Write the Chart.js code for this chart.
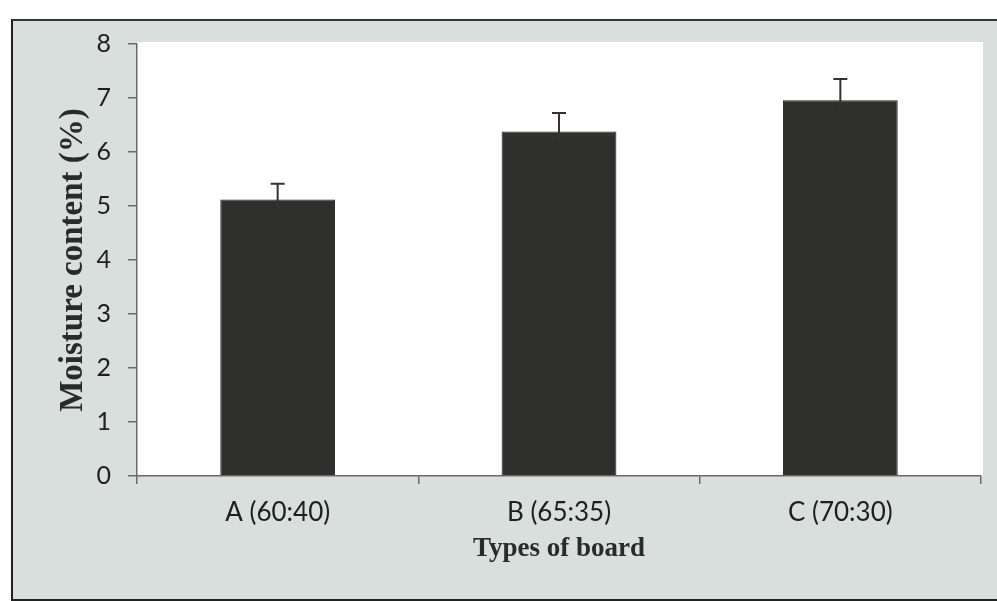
<!DOCTYPE html>
<html>
<head>
<meta charset="utf-8">
<script src="https://cdn.jsdelivr.net/npm/chart.js@4"></script>
<style>
  html, body { margin: 0; padding: 0; background: #fff; }
  body { width: 997px; height: 601px; position: relative; overflow: hidden; }
  #frame {
    position: absolute; left: 11px; top: 19px; width: 1000px; height: 578px;
    background: #d9dfdd;
    border-left: 2px solid #222; border-top: 2px solid #333; border-bottom: 2px solid #222;
  }
  #wrap { position: absolute; left: 0; top: 0; width: 997px; height: 601px; }
</style>
</head>
<body>
<div id="frame"></div>
<div id="wrap"><canvas id="moisture" width="997" height="601"></canvas></div>
<script>
const boards = ['A (60:40)', 'B (65:35)', 'C (70:30)'];
const moisture = [5.12, 6.38, 6.96];
const moistureErr = [0.29, 0.34, 0.39];
const yTicks = [0, 1, 2, 3, 4, 5, 6, 7, 8];

// white plotting area behind the bars
const plotBackground = {
  id: 'plotBackground',
  beforeDraw(chart) {
    const { ctx, chartArea: a } = chart;
    ctx.save();
    ctx.fillStyle = '#ffffff';
    ctx.fillRect(a.left, a.top - 2, a.right - a.left + 2, a.bottom - a.top + 2);
    ctx.restore();
  }
};

// upper error bars with a cap
const errorBars = {
  id: 'errorBars',
  afterDatasetsDraw(chart) {
    const { ctx } = chart;
    const y = chart.scales.y;
    const meta = chart.getDatasetMeta(0);
    ctx.save();
    ctx.strokeStyle = '#3b2f31';
    ctx.lineWidth = 2;
    meta.data.forEach((bar, i) => {
      const top = y.getPixelForValue(moisture[i] + moistureErr[i]);
      const base = y.getPixelForValue(moisture[i] - moistureErr[i] * 0.5);
      ctx.beginPath();
      ctx.moveTo(bar.x, base);
      ctx.lineTo(bar.x, top);
      ctx.moveTo(bar.x - 7, top);
      ctx.lineTo(bar.x + 7, top);
      ctx.stroke();
    });
    ctx.restore();
  }
};

new Chart(document.getElementById('moisture'), {
  type: 'bar',
  data: {
    labels: boards,
    datasets: [{
      data: moisture,
      backgroundColor: '#2f2f2e',
      borderColor: '#252524',
      borderWidth: 1,
      categoryPercentage: 0.8,
      barPercentage: 0.51
    }]
  },
  options: {
    responsive: false,
    animation: false,
    devicePixelRatio: 1,
    layout: { padding: { left: 54, top: 44, right: 16, bottom: 25 } },
    plugins: { legend: { display: false }, tooltip: { enabled: false } },
    scales: {
      x: {
        offset: true,
        grid: { offset: true, drawOnChartArea: false, tickLength: 8, color: '#6a6a6a', lineWidth: 1.5 },
        border: { color: '#6a6a6a', width: 1.5 },
        ticks: { color: '#1f1f1f', padding: 13, font: { family: 'Lato', size: 26 } },
        title: {
          display: true,
          text: 'Types of board',
          color: '#2a2a2a',
          padding: { top: 0, bottom: 11 },
          font: { family: 'Liberation Serif', size: 27, weight: 'bold' }
        },
        afterFit(scale) { scale.height = 100; }
      },
      y: {
        min: 0,
        max: 8,
        afterBuildTicks(scale) { scale.ticks = yTicks.map(v => ({ value: v })); },
        grid: { drawOnChartArea: false, tickLength: 9, color: '#6a6a6a', lineWidth: 1.5 },
        border: { color: '#6a6a6a', width: 1.5 },
        ticks: { color: '#1f1f1f', padding: 17, font: { family: 'Lato', size: 25 } },
        title: {
          display: true,
          text: 'Moisture content (%)',
          color: '#2a2a2a',
          padding: 0,
          font: { family: 'Liberation Serif', size: 33, weight: 'bold' }
        },
        afterFit(scale) { scale.width = 83; }
      }
    }
  },
  plugins: [plotBackground, errorBars]
});
</script>
</body>
</html>
